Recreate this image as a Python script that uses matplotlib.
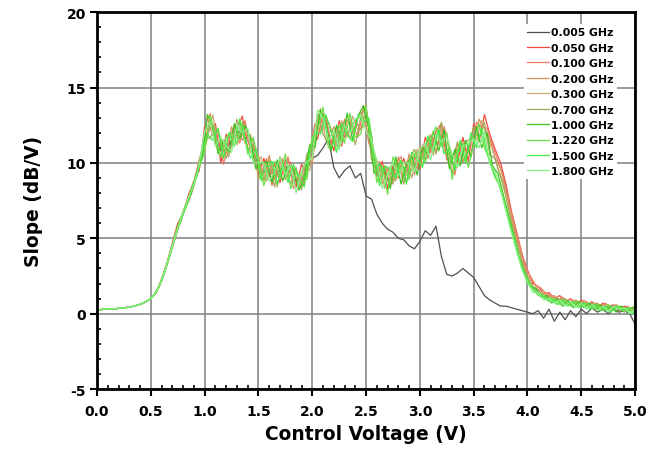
import numpy as np
import matplotlib
matplotlib.use("Agg")
import matplotlib.pyplot as plt
from matplotlib.ticker import MultipleLocator

plt.rcParams["axes.unicode_minus"] = False

# ── data ──────────────────────────────────────────────────────────────
# two sampling grids: A = 0.00, 0.05 ... 5.00 ; B = staggered by 0.025 V
volts_a = np.round(np.arange(0.0, 5.0001, 0.05), 3)
volts_b = np.round(np.concatenate([[0.0], np.arange(0.025, 5.0, 0.05), [5.0]]), 3)

freq_labels = ["0.005 GHz", "0.050 GHz", "0.100 GHz", "0.200 GHz", "0.300 GHz",
               "0.700 GHz", "1.000 GHz", "1.220 GHz", "1.500 GHz", "1.800 GHz"]

smooth_a = [0.26, 0.28, 0.30, 0.32, 0.35, 0.39, 0.44, 0.51, 0.61, 0.77]
smooth_b = [0.26, 0.27, 0.29, 0.31, 0.33, 0.37, 0.41, 0.47, 0.56, 0.69, 0.88]

slope_0005 = smooth_a + [
    1.00, 1.40, 2.20, 3.30, 4.50, 5.70, 6.70, 7.60, 8.60, 9.80,
    11.6, 12.4, 12.0, 10.8, 10.9, 11.5, 12.0, 12.2, 11.5, 10.8,
    9.8, 9.4, 9.6, 9.2, 9.5, 9.8, 9.2, 8.8, 8.9, 9.6,
    10.3, 10.5, 11.0, 11.6, 9.7, 9.0, 9.5, 9.8, 9.0, 9.3,
    7.8, 7.6, 6.6, 6.0, 5.6, 5.4, 5.0, 4.9, 4.5, 4.3,
    4.8, 5.5, 5.2, 5.8, 3.8, 2.6, 2.5, 2.7, 3.0, 2.7,
    2.4, 1.8, 1.2, 0.9, 0.7, 0.5, 0.5, 0.4, 0.3, 0.2,
    0.1, 0.0, 0.2, -0.3, 0.3, -0.5, 0.1, -0.4, 0.2, -0.2,
    0.3, 0.0, 0.4, 0.1, 0.3, 0.0, 0.3, 0.1, 0.2, 0.0,
    -0.7]

slope_0050 = smooth_a + [
    1.00, 1.45, 2.30, 3.40, 4.70, 6.00, 6.60, 7.90, 8.80, 9.50,
    12.4, 12.2, 12.6, 10.0, 11.9, 11.1, 12.2, 13.1, 10.9, 11.2,
    9.2, 10.3, 9.1, 9.9, 8.7, 10.2, 10.0, 8.4, 9.9, 9.1,
    11.4, 11.6, 13.3, 12.2, 10.8, 12.8, 11.7, 12.2, 12.8, 12.2,
    13.5, 11.8, 9.1, 10.1, 8.3, 9.8, 9.0, 10.3, 9.2, 10.4,
    9.6, 11.7, 10.7, 12.1, 12.6, 10.2, 10.5, 10.0, 11.7, 10.1,
    12.6, 11.4, 13.2, 11.9, 10.9, 10.0, 8.6, 6.8, 5.4, 3.9,
    2.9, 2.0, 1.8, 1.3, 1.4, 1.0, 1.2, 0.7, 1.0, 0.6,
    0.9, 0.5, 0.8, 0.3, 0.7, 0.4, 0.6, 0.2, 0.5, 0.3,
    0.2]

slope_0100 = smooth_b + [
    1.22, 1.75, 2.80, 3.85, 5.30, 6.10, 7.30, 8.00, 9.50, 10.9,
    13.0, 11.8, 12.1, 9.9, 11.6, 12.4, 11.3, 12.8, 10.7, 11.0,
    9.1, 10.3, 8.5, 9.9, 9.4, 10.4, 8.3, 9.2, 8.5, 10.8,
    12.6, 12.1, 13.1, 11.2, 12.3, 11.1, 12.8, 12.5, 11.7, 13.7,
    11.3, 10.8, 8.8, 9.8, 8.5, 10.0, 10.4, 8.7, 10.5, 9.6,
    11.2, 10.3, 11.7, 11.2, 12.4, 11.1, 9.2, 11.3, 11.0, 10.5,
    12.7, 12.4, 12.3, 11.2, 10.1, 9.1, 7.5, 6.0, 4.6, 3.3,
    2.5, 1.9, 1.7, 1.3, 1.2, 0.9, 1.1, 0.7, 0.9, 0.6,
    0.9, 0.5, 0.7, 0.4, 0.7, 0.3, 0.6, 0.2, 0.5, 0.3,
    0.4]

slope_0200 = smooth_a + [
    0.99, 1.38, 2.15, 3.25, 4.40, 5.55, 6.85, 7.40, 8.50, 10.2,
    11.1, 13.3, 11.3, 11.3, 10.6, 12.4, 11.2, 12.5, 12.2, 10.3,
    10.5, 8.8, 10.5, 8.9, 10.1, 8.9, 9.6, 9.5, 8.4, 10.3,
    10.0, 12.9, 12.2, 12.7, 11.8, 11.0, 12.9, 11.6, 12.5, 13.4,
    12.4, 10.7, 10.2, 8.6, 9.6, 8.8, 10.4, 8.9, 10.6, 9.2,
    11.1, 10.2, 11.9, 10.7, 12.2, 11.9, 9.2, 11.3, 10.1, 11.1,
    11.2, 12.9, 12.3, 11.6, 10.2, 9.7, 8.1, 6.5, 5.0, 3.7,
    2.5, 2.2, 1.5, 1.5, 1.1, 1.2, 0.8, 1.0, 0.7, 0.9,
    0.6, 0.8, 0.4, 0.7, 0.3, 0.6, 0.4, 0.5, 0.2, 0.4,
    0.4]

slope_0300 = smooth_b + [
    1.18, 1.82, 2.65, 4.00, 5.00, 6.35, 7.00, 8.30, 9.10, 10.4,
    11.6, 13.2, 11.0, 11.3, 10.4, 12.0, 12.8, 11.3, 11.9, 9.9,
    10.4, 8.8, 9.9, 8.4, 10.3, 9.1, 9.8, 8.3, 9.9, 9.5,
    11.3, 13.6, 11.5, 12.2, 11.1, 12.8, 11.7, 13.1, 12.1, 12.4,
    12.8, 9.8, 10.1, 8.3, 9.8, 8.8, 10.0, 10.1, 9.0, 10.9,
    9.9, 11.7, 10.5, 12.4, 11.0, 9.8, 10.7, 10.0, 11.4, 11.6,
    11.5, 12.8, 11.7, 10.9, 9.6, 8.7, 7.0, 5.5, 4.2, 2.9,
    2.2, 1.5, 1.5, 1.0, 1.1, 0.8, 1.0, 0.6, 0.9, 0.5,
    0.8, 0.4, 0.7, 0.3, 0.6, 0.2, 0.6, 0.3, 0.4, 0.2,
    0.3]

slope_0700 = smooth_a + [
    1.01, 1.41, 2.22, 3.28, 4.55, 5.75, 6.60, 7.75, 8.45, 10.0,
    11.8, 11.6, 12.4, 11.6, 10.3, 11.3, 12.9, 11.5, 11.9, 11.5,
    8.9, 9.7, 10.2, 8.4, 10.4, 9.5, 8.6, 9.7, 8.2, 10.6,
    11.0, 13.3, 11.9, 11.3, 12.4, 11.5, 12.8, 12.9, 11.2, 13.0,
    13.9, 10.2, 9.8, 9.5, 9.7, 8.6, 10.0, 8.6, 10.2, 10.9,
    9.9, 11.1, 11.8, 10.6, 12.7, 10.8, 10.1, 11.4, 10.0, 10.7,
    12.4, 11.7, 12.7, 10.5, 10.3, 9.1, 7.8, 6.1, 4.8, 3.4,
    2.4, 1.7, 1.6, 1.1, 1.2, 0.8, 1.0, 0.9, 0.6, 0.8,
    0.8, 0.5, 0.7, 0.6, 0.3, 0.5, 0.3, 0.5, 0.4, 0.2,
    0.3]

slope_1000 = smooth_b + [
    1.20, 1.78, 2.75, 3.80, 5.20, 6.05, 7.25, 7.95, 9.40, 10.3,
    13.2, 12.5, 10.6, 11.5, 10.7, 12.6, 11.6, 12.5, 11.6, 9.6,
    10.0, 10.1, 8.7, 10.2, 8.8, 9.8, 9.6, 8.2, 8.9, 11.2,
    11.0, 13.5, 12.7, 10.8, 12.5, 11.4, 13.3, 11.5, 13.1, 13.8,
    12.3, 9.3, 9.9, 9.5, 8.3, 10.4, 8.6, 9.9, 10.4, 9.2,
    11.0, 10.6, 12.1, 10.8, 12.2, 9.6, 10.9, 9.8, 11.5, 10.4,
    12.4, 11.0, 12.0, 9.8, 9.3, 7.9, 6.5, 5.1, 3.7, 2.7,
    1.8, 1.7, 1.1, 1.2, 0.7, 1.0, 0.5, 0.9, 0.4, 0.8,
    0.4, 0.7, 0.3, 0.6, 0.2, 0.5, 0.1, 0.5, 0.2, 0.4,
    0.5]

slope_1220 = smooth_a + [
    1.00, 1.39, 2.24, 3.34, 4.45, 5.80, 6.65, 7.50, 8.75, 9.70,
    10.7, 13.1, 11.7, 10.4, 11.7, 12.0, 11.3, 12.7, 10.6, 11.7,
    10.2, 8.5, 9.8, 10.1, 9.0, 10.6, 8.3, 9.3, 9.2, 8.9,
    11.7, 12.1, 13.7, 11.0, 11.3, 12.5, 11.3, 13.3, 11.7, 11.9,
    13.7, 11.2, 8.7, 9.8, 7.9, 10.4, 9.5, 9.8, 8.9, 10.6,
    10.7, 10.0, 11.5, 12.4, 11.1, 12.0, 8.9, 10.9, 11.3, 9.7,
    11.2, 12.6, 11.0, 10.2, 9.0, 8.4, 7.0, 5.6, 4.2, 3.0,
    2.0, 1.7, 1.2, 1.2, 0.8, 1.0, 0.6, 0.9, 0.5, 0.8,
    0.5, 0.7, 0.3, 0.6, 0.2, 0.6, 0.2, 0.5, 0.1, 0.4,
    0.1]

slope_1500 = smooth_b + [
    1.21, 1.80, 2.68, 3.95, 5.05, 6.30, 7.05, 8.25, 9.05, 10.7,
    11.9, 11.5, 12.3, 10.3, 12.0, 11.1, 12.9, 11.6, 10.3, 10.9,
    8.8, 9.9, 10.1, 8.6, 9.9, 8.7, 9.9, 9.0, 8.4, 10.7,
    12.1, 11.9, 13.2, 12.1, 10.7, 12.6, 11.9, 11.4, 13.2, 12.7,
    13.0, 10.5, 8.5, 9.8, 9.6, 9.0, 10.2, 8.6, 10.7, 10.3,
    9.7, 11.8, 10.8, 12.2, 10.6, 10.9, 9.5, 11.5, 10.0, 12.0,
    11.0, 12.3, 10.6, 9.5, 8.8, 7.6, 6.2, 4.9, 3.6, 2.6,
    1.9, 1.4, 1.3, 0.9, 1.0, 0.6, 0.9, 0.5, 0.8, 0.4,
    0.7, 0.3, 0.6, 0.2, 0.5, 0.1, 0.5, 0.2, 0.4, 0.0,
    0.2]

slope_1800 = smooth_a + [
    1.00, 1.42, 2.18, 3.32, 4.55, 5.65, 6.75, 7.70, 8.55, 9.95,
    12.1, 12.7, 11.1, 11.7, 11.1, 10.7, 12.5, 12.0, 12.3, 10.0,
    10.0, 10.0, 8.8, 9.4, 10.3, 9.2, 9.9, 8.0, 9.5, 10.1,
    10.3, 13.5, 13.0, 11.5, 12.1, 10.9, 12.5, 12.0, 12.9, 13.2,
    12.1, 11.5, 10.1, 8.3, 9.2, 10.0, 9.1, 10.0, 10.0, 9.4,
    10.9, 11.3, 10.2, 11.9, 11.4, 11.7, 10.6, 9.7, 11.1, 11.3,
    11.6, 11.0, 12.1, 9.9, 9.4, 8.2, 6.8, 5.4, 4.1, 2.9,
    2.1, 1.4, 1.4, 0.9, 1.0, 0.7, 0.9, 0.5, 0.8, 0.4,
    0.7, 0.3, 0.6, 0.2, 0.5, 0.1, 0.5, 0.3, 0.4, 0.0,
    0.3]

all_slopes = [slope_0005, slope_0050, slope_0100, slope_0200, slope_0300,
              slope_0700, slope_1000, slope_1220, slope_1500, slope_1800]
all_grids = [volts_a, volts_a, volts_b, volts_a, volts_b,
             volts_a, volts_b, volts_a, volts_b, volts_a]

line_colors = ["#505050", "#f04a40", "#f07a68", "#d8915a", "#c8aa72",
               "#a9a85a", "#3cc01c", "#6ee04a", "#44ee44", "#86f286"]

# ── figure ────────────────────────────────────────────────────────────
fig = plt.figure(figsize=(6.65, 4.52), dpi=100)
ax = fig.add_axes([0.146, 0.137, 0.809, 0.834])

for xs, vals, lbl, c in zip(all_grids, all_slopes, freq_labels, line_colors):
    ax.plot(xs, vals, color=c, linewidth=0.9, label=lbl)

ax.set_xlim(0, 5)
ax.set_ylim(-5, 20)
ax.xaxis.set_major_locator(MultipleLocator(0.5))
ax.xaxis.set_minor_locator(MultipleLocator(0.1))
ax.yaxis.set_major_locator(MultipleLocator(5))
ax.yaxis.set_minor_locator(MultipleLocator(1))
ax.set_xticklabels([f"{v:.1f}" for v in ax.get_xticks()])

ax.grid(True, which="major", color="#808080", linewidth=1.1)
ax.set_axisbelow(True)
ax.tick_params(which="major", direction="out", length=5, width=1.5,
               labelsize=10, pad=3)
ax.tick_params(axis="x", which="major", pad=6)
ax.tick_params(which="minor", direction="in", length=3, width=1.2)
for lab in ax.get_xticklabels() + ax.get_yticklabels():
    lab.set_fontweight("bold")
for sp in ax.spines.values():
    sp.set_linewidth(2)
    sp.set_color("black")

ax.set_xlabel("Control Voltage (V)", fontsize=13.4, fontweight="bold", labelpad=4)
ax.set_ylabel("Slope (dB/V)", fontsize=13.4, fontweight="bold", labelpad=17)

leg = ax.legend(loc="upper right", bbox_to_anchor=(0.967, 0.968),
                prop={"weight": "bold", "size": 7.8},
                frameon=True, facecolor="white", edgecolor="none", framealpha=1,
                handlelength=2.0, handletextpad=0.25, labelspacing=0.5,
                borderpad=0.3, borderaxespad=0.0)
leg.get_frame().set_boxstyle("square", pad=0)

fig.savefig("out.png", dpi=100)
plt.close()
